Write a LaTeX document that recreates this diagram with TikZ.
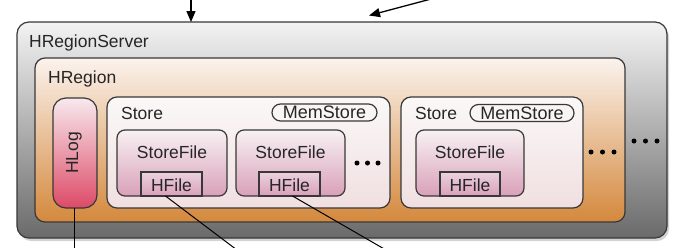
\documentclass[tikz,border=0pt]{standalone}
\usepackage{fontspec}
\setmainfont{Liberation Sans}
\usetikzlibrary{arrows.meta,calc,shadows}

\definecolor{edge}{HTML}{383838}
\definecolor{ink}{HTML}{262626}
\definecolor{srvTop}{HTML}{F3F3F3}
\definecolor{srvBot}{HTML}{6A6A6A}
\definecolor{regTop}{HTML}{FBF3EE}
\definecolor{regBot}{HTML}{D4883C}
\definecolor{stoTop}{HTML}{FBF8F8}
\definecolor{stoBot}{HTML}{F0DFE0}
\definecolor{sfTop}{HTML}{F7F1F3}
\definecolor{sfBot}{HTML}{D9A0B8}
\definecolor{hfTop}{HTML}{EBD2DC}
\definecolor{logTop}{HTML}{F8E9EE}
\definecolor{logBot}{HTML}{DC4A66}
\definecolor{pill}{HTML}{F9F5F3}

\tikzset{
  box/.style={draw=edge, line width=1.2pt, anchor=north west, inner sep=0pt, outer sep=0pt},
  serverbox/.style={box, rounded corners=12pt, top color=srvTop, bottom color=srvBot,
    drop shadow={opacity=0.35, shadow xshift=2pt, shadow yshift=-3pt}},
  regionbox/.style={box, rounded corners=10pt, top color=regTop, bottom color=regBot},
  storebox/.style={box, rounded corners=10pt, top color=stoTop, bottom color=stoBot},
  sfbox/.style={box, rounded corners=8pt, top color=sfTop, bottom color=sfBot},
  hfbox/.style={box, top color=hfTop, bottom color=sfBot},
  logbox/.style={box, rounded corners=13pt, top color=logTop, bottom color=logBot},
  memstore/.style={draw=edge, line width=1.2pt, rounded corners=8.5pt, fill=pill,
    minimum height=17pt, inner sep=0pt, font=\fontsize{18}{20}\selectfont, text=ink},
  lbl/.style={font=\fontsize{17.5}{20}\selectfont, text=ink, inner sep=0pt},
  flow/.style={draw=black, line width=1.3pt, -{Triangle[length=11pt,width=9pt]}},
  link/.style={draw=black, line width=1pt},
}

\begin{document}
\begin{tikzpicture}[x=1pt,y=-1pt]
\useasboundingbox (0,0) rectangle (677,247);

% server and region containers
\node[serverbox, minimum width=650pt, minimum height=216pt] (hrs) at (17,22) {};
\node[lbl, anchor=base west] (hrsText) at ($(hrs.north west)+(12,25)$) {HRegionServer};

\node[regionbox, minimum width=590pt, minimum height=164pt] (hr) at (35,58) {};
\node[lbl, anchor=base west] (hrText) at ($(hr.north west)+(13,25)$) {HRegion};

% write-ahead log
\node[logbox, minimum width=44pt, minimum height=110pt] (hlog) at (53,98) {};
\node[lbl, rotate=90] (hlogText) at ($(hlog.center)+(-1,0)$) {HLog};

% first store
\node[storebox, minimum width=283pt, minimum height=111pt] (st1) at (107,97) {};
\node[lbl, anchor=base west] (st1Text) at ($(st1.north west)+(14,22)$) {Store};
\node[memstore, minimum width=105pt] (ms1) at (324.5,112.5) {MemStore};

\node[sfbox, minimum width=110pt, minimum height=66pt] (sf1) at (117,130) {};
\node[lbl, anchor=base] (sf1Text) at ($(sf1.north)+(0,28)$) {StoreFile};
\node[hfbox, minimum width=61pt, minimum height=24pt] (hf1) at (141,172) {};
\node[lbl, anchor=base] (hf1Text) at ($(hf1.north)+(0,19)$) {HFile};

\node[sfbox, minimum width=109pt, minimum height=66pt] (sf2) at (236,130) {};
\node[lbl, anchor=base] (sf2Text) at ($(sf2.north)+(0,28)$) {StoreFile};
\node[hfbox, minimum width=61pt, minimum height=24pt] (hf2) at (259,172) {};
\node[lbl, anchor=base] (hf2Text) at ($(hf2.north)+(0,19)$) {HFile};

% second store
\node[storebox, minimum width=182pt, minimum height=111pt] (st2) at (401,97) {};
\node[lbl, anchor=base west] (st2Text) at ($(st2.north west)+(14,22)$) {Store};
\node[memstore, minimum width=104pt] (ms2) at (522,113) {MemStore};

\node[sfbox, minimum width=108pt, minimum height=66pt] (sf3) at (416,130) {};
\node[lbl, anchor=base] (sf3Text) at ($(sf3.north)+(0,28)$) {StoreFile};
\node[hfbox, minimum width=60pt, minimum height=24pt] (hf3) at (440,172) {};
\node[lbl, anchor=base] (hf3Text) at ($(hf3.north)+(0,19)$) {HFile};

% ellipsis marks
\foreach \x/\y in {357/163, 367.5/163, 378/163,
                   591/152, 602.5/152, 614/152,
                   634/141, 645.5/141, 657/141}
  \fill[black] (\x,\y) circle (2.5pt);

% incoming requests
\coordinate (in1) at (191,-3);
\draw[flow] (in1) -- (in1 |- hrs.north);
\coordinate (in2) at (431,-1);
\coordinate (in2tip) at (369,15.5);
\draw[flow] (in2) -- (in2tip);

% links down to the file system
\coordinate (out0) at (74,250);
\draw[link] (hlog.south -| out0) -- (out0);
\coordinate (out1) at (237,250);
\draw[link] ($(hf1.south)+(-6,0)$) -- (out1);
\coordinate (out2) at (386,250);
\draw[link] ($(hf2.south)+(3,0)$) -- (out2);
\end{tikzpicture}
\end{document}
